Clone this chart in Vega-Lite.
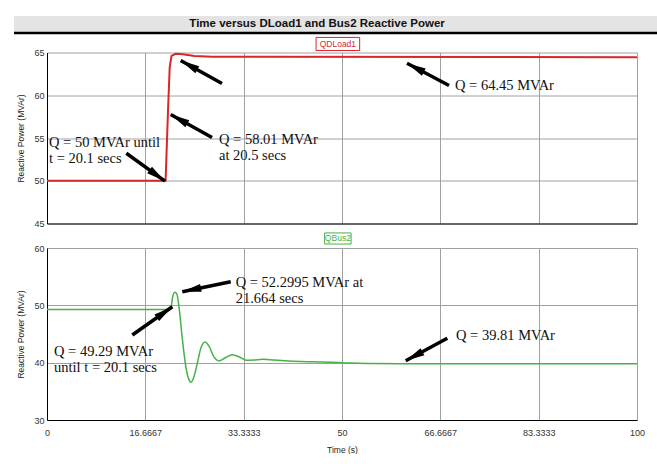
{
  "$schema": "https://vega.github.io/schema/vega-lite/v6.json",
  "background": "white",
  "padding": {"left": 12, "top": 16, "right": 0, "bottom": 0},
  "config": {
    "view": {"stroke": null},
    "axis": {"labelFont": "Liberation Sans", "labelFontSize": 9, "labelColor": "#333", "labelFlush": false, "titleFont": "Liberation Sans", "titleFontSize": 8.5, "titleFontWeight": "normal", "titleColor": "#222", "gridColor": "#a0a0a0", "gridOpacity": 1, "gridWidth": 1, "domainColor": "#000", "ticks": false}
  },
  "datasets": {
    "qdload1": [
      {"t": 0, "v": 50}, {"t": 20.1, "v": 50}, {"t": 20.5, "v": 58.01}, {"t": 20.8, "v": 63.3}, {"t": 21.1, "v": 64.6}, {"t": 21.8, "v": 64.85}, {"t": 23, "v": 64.8}, {"t": 25, "v": 64.6}, {"t": 28, "v": 64.5}, {"t": 100, "v": 64.45}
    ],
    "qbus2": [
      {"t": 0, "v": 49.29}, {"t": 20.1, "v": 49.29}, {"t": 21.0, "v": 49.6}, {"t": 21.3, "v": 51.5}, {"t": 21.664, "v": 52.3}, {"t": 22.0, "v": 52.0}, {"t": 22.4, "v": 49.5}, {"t": 22.9, "v": 44.5}, {"t": 23.5, "v": 39.5}, {"t": 24.0, "v": 37.2}, {"t": 24.4, "v": 36.6}, {"t": 24.9, "v": 37.5}, {"t": 25.5, "v": 40.0}, {"t": 26.1, "v": 42.6}, {"t": 26.8, "v": 43.6}, {"t": 27.5, "v": 42.8}, {"t": 28.3, "v": 41.0}, {"t": 29.2, "v": 40.3}, {"t": 30.3, "v": 40.9}, {"t": 31.4, "v": 41.4}, {"t": 32.6, "v": 41.0}, {"t": 33.8, "v": 40.4}, {"t": 35.0, "v": 40.45}, {"t": 36.6, "v": 40.6}, {"t": 38.5, "v": 40.45}, {"t": 41, "v": 40.3}, {"t": 45, "v": 40.15}, {"t": 50, "v": 40.0}, {"t": 55, "v": 39.85}, {"t": 60, "v": 39.81}, {"t": 100, "v": 39.81}
    ],
    "arrowsTop": [
      {"t": 20.0, "v": 49.95, "t0": 13.44, "v0": 53.22, "dir": 125.9},
      {"t": 20.97, "v": 57.75, "t0": 27.97, "v0": 55.06, "dir": -60.9},
      {"t": 22.66, "v": 64.06, "t0": 29.66, "v0": 61.37, "dir": -60.9},
      {"t": 61.02, "v": 63.75, "t0": 68.14, "v0": 61.14, "dir": -62.0}
    ],
    "arrowsBottom": [
      {"t": 21.24, "v": 49.76, "t0": 14.46, "v0": 44.82, "dir": 54.7},
      {"t": 22.93, "v": 52.38, "t0": 31.14, "v0": 54.12, "dir": -101.7},
      {"t": 60.8, "v": 40.34, "t0": 67.85, "v0": 44.25, "dir": -118.3}
    ],
    "textsTop": [
      {"t": 0.34, "v": 54.44, "label": "Q = 50 MVAr until"},
      {"t": 0.34, "v": 52.49, "label": "t = 20.1 secs"},
      {"t": 29.15, "v": 54.82, "label": "Q = 58.01 MVAr"},
      {"t": 29.15, "v": 52.95, "label": "at 20.5 secs"},
      {"t": 69.15, "v": 61.06, "label": "Q = 64.45 MVAr"}
    ],
    "textsBottom": [
      {"t": 31.98, "v": 53.95, "label": "Q = 52.2995 MVAr at"},
      {"t": 31.98, "v": 51.1, "label": "21.664 secs"},
      {"t": 1.19, "v": 41.91, "label": "Q = 49.29 MVAr"},
      {"t": 1.19, "v": 39.07, "label": "until t = 20.1 secs"},
      {"t": 69.32, "v": 44.65, "label": "Q = 39.81 MVAr"}
    ],
    "legendTop": [{"t": 49.3, "v": 66.0, "label": "QDLoad1"}],
    "legendBottom": [{"t": 49.3, "v": 61.66, "label": "QBus2"}],
    "titleBar": [{"x": 0, "x2": 1, "y": 1, "y2": -0.478, "label": "Time versus DLoad1 and Bus2 Reactive Power", "tx": 0.462, "ty": 0.261}]
  },
  "vconcat": [
    {
      "width": 656,
      "height": 11.5,
      "data": {"name": "titleBar"},
      "layer": [
        {"mark": {"type": "rect", "color": "#e4e4e4"}, "encoding": {
          "x": {"field": "x", "type": "quantitative", "scale": {"domain": [0, 1]}, "axis": null},
          "x2": {"field": "x2"},
          "y": {"field": "y", "type": "quantitative", "scale": {"domain": [0, 1]}, "axis": null},
          "y2": {"field": "y2"}}},
        {"mark": {"type": "rule", "color": "#000", "strokeWidth": 2.5}, "encoding": {
          "x": {"field": "x", "type": "quantitative"},
          "x2": {"field": "x2"},
          "y": {"field": "y2", "type": "quantitative"}}},
        {"mark": {"type": "text", "font": "Liberation Sans", "fontSize": 11.5, "fontWeight": "bold", "color": "#111", "baseline": "middle", "align": "center"}, "encoding": {
          "x": {"field": "tx", "type": "quantitative"},
          "y": {"field": "ty", "type": "quantitative"},
          "text": {"field": "label"}}}
      ]
    },
    {
      "width": 590,
      "height": 171,
      "encoding": {
        "x": {"field": "t", "type": "quantitative", "scale": {"domain": [0, 100], "nice": false, "zero": false}, "axis": {"values": [0, 16.6667, 33.3333, 50, 66.6667, 83.3333, 100], "labels": false, "title": null, "grid": true}},
        "y": {"field": "v", "type": "quantitative", "scale": {"domain": [45, 65], "nice": false, "zero": false}, "axis": {"values": [45, 50, 55, 60, 65], "title": "Reactive Power (MVAr)", "labelPadding": 3, "titlePadding": 8, "grid": true}}
      },
      "layer": [
        {"data": {"name": "qdload1"}, "mark": {"type": "line", "color": "#d8262b", "strokeWidth": 2}},
        {"data": {"name": "arrowsTop"}, "mark": {"type": "rule", "color": "#000", "strokeWidth": 3.5, "strokeCap": "butt"}, "encoding": {"x2": {"field": "t0"}, "y2": {"field": "v0"}}},
        {"data": {"name": "arrowsTop"}, "mark": {"type": "point", "shape": "M0,0L0.36,1.7L-0.36,1.7Z", "filled": true, "color": "#000", "opacity": 1, "size": 500}, "encoding": {"angle": {"field": "dir", "type": "quantitative", "scale": null}}},
        {"data": {"name": "textsTop"}, "mark": {"type": "text", "font": "Liberation Serif", "fontSize": 14.5, "color": "#111", "align": "left", "baseline": "middle"}, "encoding": {"text": {"field": "label"}}},
        {"data": {"name": "legendTop"}, "mark": {"type": "point", "shape": "M-1,-0.3H1V0.3H-1Z", "filled": false, "fill": "white", "stroke": "#d8262b", "strokeWidth": 1, "opacity": 1, "size": 1900}},
        {"data": {"name": "legendTop"}, "mark": {"type": "text", "font": "Liberation Sans", "fontSize": 8.5, "color": "#d8262b", "baseline": "middle", "align": "center"}, "encoding": {"text": {"field": "label"}}}
      ]
    },
    {
      "width": 590,
      "height": 172,
      "encoding": {
        "x": {"field": "t", "type": "quantitative", "scale": {"domain": [0, 100], "nice": false, "zero": false}, "axis": {"values": [0, 16.6667, 33.3333, 50, 66.6667, 83.3333, 100], "format": ".6~g", "title": "Time (s)", "labelPadding": 8, "titlePadding": 8, "grid": true}},
        "y": {"field": "v", "type": "quantitative", "scale": {"domain": [30, 60], "nice": false, "zero": false}, "axis": {"values": [30, 40, 50, 60], "title": "Reactive Power (MVAr)", "labelPadding": 3, "titlePadding": 8, "grid": true}}
      },
      "layer": [
        {"data": {"name": "qbus2"}, "mark": {"type": "line", "color": "#44b347", "strokeWidth": 1.5, "interpolate": "monotone"}},
        {"data": {"name": "arrowsBottom"}, "mark": {"type": "rule", "color": "#000", "strokeWidth": 3.5, "strokeCap": "butt"}, "encoding": {"x2": {"field": "t0"}, "y2": {"field": "v0"}}},
        {"data": {"name": "arrowsBottom"}, "mark": {"type": "point", "shape": "M0,0L0.36,1.7L-0.36,1.7Z", "filled": true, "color": "#000", "opacity": 1, "size": 500}, "encoding": {"angle": {"field": "dir", "type": "quantitative", "scale": null}}},
        {"data": {"name": "textsBottom"}, "mark": {"type": "text", "font": "Liberation Serif", "fontSize": 14.5, "color": "#111", "align": "left", "baseline": "middle"}, "encoding": {"text": {"field": "label"}}},
        {"data": {"name": "legendBottom"}, "mark": {"type": "point", "shape": "M-1,-0.42H1V0.42H-1Z", "filled": false, "fill": "white", "stroke": "#44b347", "strokeWidth": 1, "opacity": 1, "size": 700}},
        {"data": {"name": "legendBottom"}, "mark": {"type": "text", "font": "Liberation Sans", "fontSize": 8.5, "color": "#44b347", "baseline": "middle", "align": "center"}, "encoding": {"text": {"field": "label"}}}
      ]
    }
  ],
  "spacing": 24.5,
  "bounds": "flush",
  "center": true
}
